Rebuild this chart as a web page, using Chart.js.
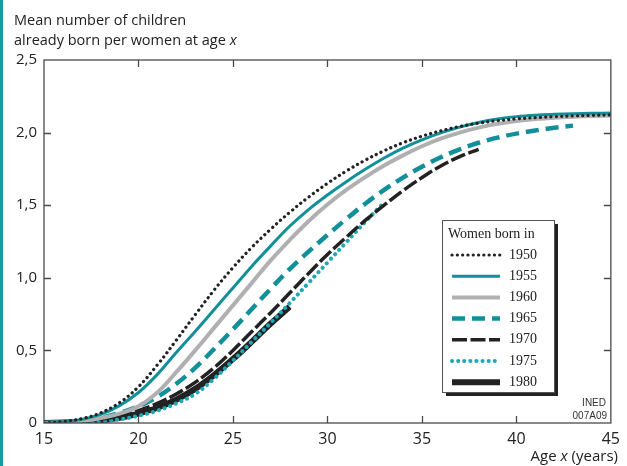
<!DOCTYPE html>
<html>
<head>
<meta charset="utf-8">
<script src="https://cdn.jsdelivr.net/npm/chart.js@4.4.0/dist/chart.umd.min.js"></script>
<style>
  html, body { margin: 0; padding: 0; background: #fff; }
  #wrap { width: 627px; height: 466px; }
</style>
</head>
<body>
<div id="wrap"><canvas id="myChart" width="627" height="466"></canvas></div>
<script>
// Data --------------------------------------------

const ages = [15, 16, 17, 18, 19, 20, 21, 22, 23, 24, 25, 26, 27, 28, 29, 30,
	31, 32, 33, 34, 35, 36, 37, 38, 39, 40, 41, 42, 43, 44, 45];

const cohorts = ['1950', '1955', '1960', '1965', '1970', '1975', '1980'];

const born1950 = [0, 0.01, 0.03, 0.07, 0.14, 0.25, 0.40, 0.57, 0.745, 0.915, 1.07, 1.21, 1.335, 1.45, 1.555, 1.65,
	1.735, 1.81, 1.875, 1.93, 1.975, 2.012, 2.042, 2.065, 2.082, 2.094, 2.103, 2.11, 2.115, 2.119, 2.122];
const born1955 = [0, 0.008, 0.025, 0.06, 0.12, 0.21, 0.335, 0.485, 0.63, 0.78, 0.93, 1.08, 1.22, 1.355, 1.47, 1.57,
	1.662, 1.747, 1.825, 1.893, 1.95, 1.998, 2.038, 2.07, 2.094, 2.11, 2.12, 2.126, 2.13, 2.133, 2.135];
const born1960 = [0, 0.005, 0.015, 0.035, 0.065, 0.115, 0.21, 0.35, 0.50, 0.655, 0.81, 0.965, 1.12, 1.26, 1.39, 1.505,
	1.605, 1.693, 1.773, 1.843, 1.906, 1.958, 2.0, 2.034, 2.06, 2.079, 2.093, 2.103, 2.11, 2.115, 2.118];
const born1965 = [0, 0.005, 0.015, 0.035, 0.07, 0.115, 0.18, 0.27, 0.38, 0.51, 0.645, 0.785, 0.925, 1.06, 1.18, 1.295,
	1.405, 1.51, 1.605, 1.69, 1.765, 1.83, 1.885, 1.93, 1.965, 1.993, 2.015, 2.033, 2.048];
const born1970 = [0, 0.004, 0.01, 0.025, 0.05, 0.085, 0.135, 0.20, 0.28, 0.38, 0.50, 0.63, 0.76, 0.895, 1.03, 1.16,
	1.28, 1.395, 1.50, 1.60, 1.69, 1.77, 1.835, 1.885];
const born1975 = [0, 0.002, 0.005, 0.012, 0.025, 0.05, 0.085, 0.135, 0.20, 0.305, 0.43, 0.56, 0.69, 0.825, 0.965, 1.105,
	1.245, 1.385, 1.52];
const born1980 = [0, 0.003, 0.008, 0.018, 0.035, 0.065, 0.105, 0.16, 0.235, 0.33, 0.44, 0.56, 0.685, 0.80];

const xTicks = [15, 20, 25, 30, 35, 40, 45];
const yTicks = [0, 0.5, 1, 1.5, 2, 2.5];

const TEAL = '#12909a';
const LIGHT_TEAL = '#1fa8b3';
const BLACK = '#222222';
const GREY = '#b0b0b2';
const SANS = '"Open Sans", sans-serif';
const SERIF = '"Liberation Serif", "DejaVu Serif", serif';

function points(values) {
	return values.map((v, i) => ({ x: ages[i], y: v }));
}

// Frame, inner ticks, titles and legend --------------------------------------------

const decorations = {
	id: 'decorations',
	afterDraw(c) {
		const ctx = c.ctx;
		const a = c.chartArea;
		const xs = c.scales.x, ys = c.scales.y;
		ctx.save();

		// teal strip on the left edge
		ctx.fillStyle = '#1c9aa5';
		ctx.fillRect(0, 0, 3, 466);

		// frame
		ctx.strokeStyle = '#4a4a4a';
		ctx.lineWidth = 1.3;
		ctx.strokeRect(a.left, a.top, a.right - a.left, a.bottom - a.top);
		ctx.beginPath();
		xTicks.slice(1, -1).forEach(t => {
			const px = Math.round(xs.getPixelForValue(t)) + 0.5;
			ctx.moveTo(px, a.bottom); ctx.lineTo(px, a.bottom - 7);
			ctx.moveTo(px, a.top); ctx.lineTo(px, a.top + 7);
		});
		yTicks.slice(1, -1).forEach(t => {
			const py = Math.round(ys.getPixelForValue(t)) + 0.5;
			ctx.moveTo(a.left, py); ctx.lineTo(a.left + 7, py);
			ctx.moveTo(a.right, py); ctx.lineTo(a.right - 7, py);
		});
		ctx.stroke();

		// y title (two lines, italic x)
		ctx.fillStyle = '#222';
		ctx.textBaseline = 'middle';
		ctx.textAlign = 'left';
		ctx.font = '14.5px ' + SANS;
		ctx.fillText('Mean number of children', 14, 21);
		const part = 'already born per women at age ';
		ctx.fillText(part, 14, 41);
		const w = ctx.measureText(part).width;
		ctx.font = 'italic 14.5px ' + SANS;
		ctx.fillText('x', 14 + w, 41);

		// x title, right aligned
		ctx.font = '15px ' + SANS;
		const tail = ' (years)';
		const wTail = ctx.measureText(tail).width;
		ctx.font = 'italic 15px ' + SANS;
		const wx = ctx.measureText('x').width;
		ctx.font = '15px ' + SANS;
		const wAge = ctx.measureText('Age ').width;
		const right = 618;
		ctx.fillText('Age ', right - wTail - wx - wAge, 457);
		ctx.fillText(tail, right - wTail, 457);
		ctx.font = 'italic 15px ' + SANS;
		ctx.fillText('x', right - wTail - wx, 457);

		// INED code
		ctx.textAlign = 'right';
		ctx.font = '10px "Liberation Sans", sans-serif';
		ctx.fillStyle = '#333';
		ctx.fillText('INED', 606, 403);
		ctx.fillText('007A09', 607, 416);

		// legend box with shadow
		const lx = 442, ly = 220, lw = 112, lh = 172;
		ctx.fillStyle = '#222';
		ctx.fillRect(lx + 4, ly + 4, lw, lh);
		ctx.fillStyle = '#fff';
		ctx.fillRect(lx, ly, lw, lh);
		ctx.strokeStyle = '#555';
		ctx.lineWidth = 1;
		ctx.strokeRect(lx + 0.5, ly + 0.5, lw, lh);

		ctx.fillStyle = '#222';
		ctx.textAlign = 'left';
		ctx.font = '14px ' + SERIF;
		ctx.fillText('Women born in', 448, 234);

		c.data.datasets.forEach((ds, i) => {
			const y = 255 + i * 21.2;
			ctx.save();
			ctx.strokeStyle = ds.borderColor;
			ctx.lineWidth = ds.borderWidth;
			ctx.lineCap = ds.borderCapStyle || 'butt';
			ctx.setLineDash(ds.borderDash || []);
			ctx.beginPath();
			ctx.moveTo(452, y);
			ctx.lineTo(500, y);
			ctx.stroke();
			ctx.restore();
			ctx.fillStyle = '#222';
			ctx.fillText(ds.label, 509, y);
		});

		ctx.restore();
	}
};

// Line chart --------------------------------------------

let ctx = document.getElementById('myChart').getContext('2d');
let chart = new Chart(ctx, {
	type: 'line',
	data: {
		datasets: [
			{ label: cohorts[0], data: points(born1950), borderColor: BLACK, borderWidth: 3.2,
				borderDash: [0.1, 5.2], borderCapStyle: 'round' },
			{ label: cohorts[1], data: points(born1955), borderColor: TEAL, borderWidth: 3 },
			{ label: cohorts[2], data: points(born1960), borderColor: GREY, borderWidth: 4 },
			{ label: cohorts[3], data: points(born1965), borderColor: TEAL, borderWidth: 4.5,
				borderDash: [13, 7] },
			{ label: cohorts[4], data: points(born1970), borderColor: BLACK, borderWidth: 3.5,
				borderDash: [15, 3.5] },
			{ label: cohorts[5], data: points(born1975), borderColor: LIGHT_TEAL, borderWidth: 4,
				borderDash: [0.1, 6], borderCapStyle: 'round' },
			{ label: cohorts[6], data: points(born1980), borderColor: BLACK, borderWidth: 6 }
		]
	},
	options: {
		responsive: false,
		animation: false,
		elements: {
			point: { radius: 0, hoverRadius: 0 },
			line: { fill: false, tension: 0.4 }
		},
		layout: {
			padding: { left: 0, right: 16, top: 60, bottom: 0 }
		},
		plugins: {
			legend: { display: false },
			tooltip: { enabled: false }
		},
		scales: {
			x: {
				type: 'linear',
				min: 15,
				max: 45,
				afterFit: s => { s.height = 43; },
				afterBuildTicks: s => { s.ticks = xTicks.map(v => ({ value: v })); },
				grid: { display: false, drawTicks: false },
				border: { display: false },
				ticks: {
					padding: 7,
					color: '#222',
					font: { family: SANS, size: 16 }
				}
			},
			y: {
				min: 0,
				max: 2.5,
				afterFit: s => { s.width = 44; },
				afterBuildTicks: s => { s.ticks = yTicks.map(v => ({ value: v })); },
				grid: { display: false, drawTicks: false },
				border: { display: false },
				ticks: {
					padding: 7,
					color: '#222',
					font: { family: SANS, size: 15 },
					callback: v => v === 0 ? '0' : v.toFixed(1).replace('.', ',')
				}
			}
		}
	},
	plugins: [decorations]
});
</script>
</body>
</html>
